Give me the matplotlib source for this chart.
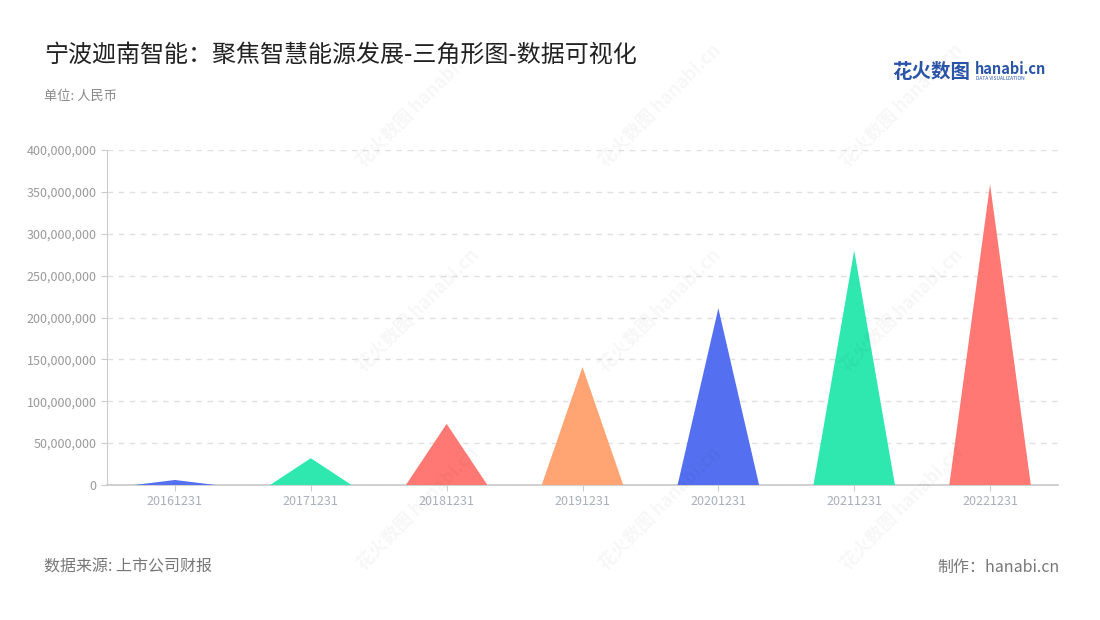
import matplotlib
matplotlib.use("Agg")
import matplotlib.pyplot as plt
from matplotlib.ticker import FuncFormatter

plt.rcParams['font.family'] = ['Noto Sans CJK SC', 'DejaVu Sans']

dates = ["20161231", "20171231", "20181231", "20191231", "20201231", "20211231", "20221231"]
values = [6000000, 32000000, 73000000, 141000000, 211000000, 280000000, 359000000]
colors = ["#5470f0", "#2ee8b0", "#ff7873", "#ffa472", "#5470f0", "#2ee8b0", "#ff7873"]

fig = plt.figure(figsize=(11, 6.2), dpi=100)
ax = fig.add_axes([107 / 1100, 1 - 485 / 620, 951 / 1100, 335 / 620])

for i, (v, c) in enumerate(zip(values, colors)):
    ax.fill([i - 0.3, i, i + 0.3], [0, v, 0], color=c, linewidth=0, zorder=3)

ax.set_xlim(-0.5, len(dates) - 0.5)
ax.set_ylim(0, 400000000)
ax.set_yticks(range(0, 400000001, 50000000))
ax.yaxis.set_major_formatter(FuncFormatter(lambda v, p: f"{int(v):,}"))
ax.set_xticks(range(len(dates)))
ax.set_xticklabels(dates)

ax.grid(axis="y", color="#e0e0e0", linestyle=(0, (4, 4)), linewidth=1)
ax.set_axisbelow(True)
for s in ("top", "right"):
    ax.spines[s].set_visible(False)
ax.spines["left"].set_color("#cccccc")
ax.spines["bottom"].set_color("#c8c8c8")
ax.spines["bottom"].set_linewidth(1.2)
ax.tick_params(axis="y", colors="#cccccc", labelcolor="#999999", labelsize=9, length=4)
ax.tick_params(axis="x", colors="#cccccc", labelcolor="#a8aebb", labelsize=9, length=4)

# watermarks
for wx in (0.38, 0.6, 0.82):
    for wy in (0.18, 0.5, 0.83):
        fig.text(wx, wy, "花火数图 hanabi.cn", rotation=45, fontsize=13,
                 color="#000000", alpha=0.035, ha="center", va="center", fontweight="bold")

fig.text(44 / 1100, 1 - 55 / 620, "宁波迦南智能：聚焦智慧能源发展-三角形图-数据可视化",
         fontsize=17.3, color="#222222", va="center")
fig.text(44 / 1100, 1 - 96 / 620, "单位: 人民币", fontsize=9.5, color="#888888", va="center")
fig.text(44 / 1100, 1 - 567 / 620, "数据来源: 上市公司财报", fontsize=11.5, color="#777777", va="center")
fig.text(1060 / 1100, 1 - 567 / 620, "制作：hanabi.cn", fontsize=11.5, color="#777777",
         va="center", ha="right")

# logo
fig.text(892 / 1100, 1 - 72 / 620, "花火数图", fontsize=14, color="#2a54a8",
         fontweight="bold", va="center")
fig.text(975 / 1100, 1 - 69 / 620, "hanabi.cn", fontsize=10.5, color="#2a54a8",
         fontweight="bold", va="center")
fig.text(976 / 1100, 1 - 79 / 620, "DATA VISUALIZATION", fontsize=3.5, color="#2a54a8",
         va="center")

fig.savefig("out.png", dpi=100)
